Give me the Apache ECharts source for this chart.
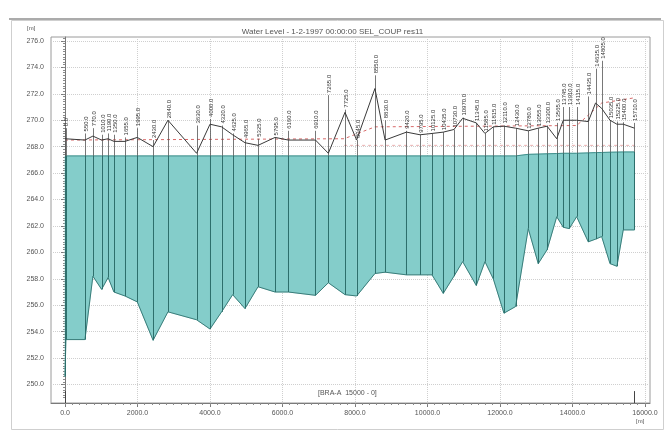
<!DOCTYPE html>
<html><head><meta charset="utf-8">
<script src="https://cdn.jsdelivr.net/npm/echarts@6/dist/echarts.min.js"></script>
<style>html,body{margin:0;padding:0;background:#fff}#c{width:665px;height:434px}</style>
</head><body><div id="c"></div><script>
// Cross-section chainages [m]
const chainages = [0, 25, 550, 770, 1010, 1190, 1350, 1655, 1995, 2430, 2840, 3630, 4000, 4320, 4625, 4965, 5325, 5795, 6160, 6910, 7265, 7725, 8045, 8550, 8830, 9420, 9795, 10125, 10435, 10730, 10970, 11345, 11585, 11815, 12110, 12430, 12780, 13055, 13300, 13565, 13745, 13910, 14115, 14435, 14635, 14805, 15035, 15225, 15400, 15710];
// Bed level [m]
const bedLevels = [250.6, 253.4, 253.4, 258.2, 257.2, 258.1, 257.0, 256.7, 256.25, 253.35, 255.5, 254.9, 254.2, 255.5, 256.8, 255.75, 257.4, 257.0, 257.0, 256.75, 257.7, 256.8, 256.7, 258.4, 258.5, 258.3, 258.3, 258.3, 256.9, 258.2, 259.3, 257.5, 259.3, 258.0, 255.4, 255.9, 261.8, 259.15, 260.2, 262.7, 261.9, 261.8, 262.7, 260.8, 261.0, 261.2, 259.15, 258.95, 261.7, 261.7];
// Water level [m]
const waterLevels = [267.3, 267.3, 267.3, 267.3, 267.3, 267.3, 267.3, 267.3, 267.3, 267.3, 267.3, 267.3, 267.3, 267.3, 267.3, 267.3, 267.3, 267.3, 267.3, 267.3, 267.3, 267.3, 267.3, 267.3, 267.3, 267.3, 267.3, 267.3, 267.3, 267.3, 267.3, 267.3, 267.3, 267.3, 267.3, 267.3, 267.42, 267.44, 267.46, 267.48, 267.5, 267.5, 267.5, 267.53, 267.55, 267.56, 267.58, 267.59, 267.6, 267.6];
// Marker level (black line) [m]
const markerLevels = [268.6, 268.6, 268.5, 268.8, 268.5, 268.6, 268.4, 268.4, 268.7, 268.0, 270.0, 267.5, 269.7, 269.5, 268.9, 268.3, 268.1, 268.7, 268.5, 268.5, 267.5, 270.6, 268.5, 272.4, 268.5, 269.1, 268.9, 269.0, 269.1, 269.3, 270.15, 269.8, 269.0, 269.5, 269.55, 269.4, 269.2, 269.4, 269.55, 268.6, 270.0, 270.0, 270.0, 269.9, 271.3, 270.9, 270.0, 269.7, 269.7, 269.4];
// Level at which the section name starts [m]
const labelLevels = [269.4, 269.4, 269.0, 269.4, 268.9, 269.0, 268.9, 268.7, 269.4, 268.5, 269.9, 269.6, 270.1, 269.6, 269.0, 268.5, 268.6, 268.7, 269.2, 269.2, 271.9, 270.8, 268.4, 273.4, 270.0, 269.2, 268.9, 269.0, 269.1, 269.3, 270.2, 269.8, 269.0, 269.5, 269.6, 269.4, 269.2, 269.4, 269.6, 269.8, 271.0, 271.0, 271.0, 271.8, 273.9, 274.5, 270.0, 269.9, 269.85, 269.8];
const sectionLabels = ["0.0", "", "550.0", "770.0", "1010.0", "1190.0", "1350.0", "1655.0", "1995.0", "2430.0", "2840.0", "3630.0", "4000.0", "4320.0", "4625.0", "4965.0", "5325.0", "5795.0", "6160.0", "6910.0", "7265.0", "7725.0", "8045.0", "8550.0", "8830.0", "9420.0", "9795.0", "10125.0", "10435.0", "10730.0", "10970.0", "11345.0", "11585.0", "11815.0", "12110.0", "12430.0", "12780.0", "13055.0", "13300.0", "13565.0", "13745.0", "13910.0", "14115.0", "14435.0", "14635.0", "14805.0", "15035.0", "15225.0", "15400.0", "15710.0"];
// Red dashed line
const redChainages = [0, 7700, 8550, 14115, 14805, 15710];
const redLevels = [268.5, 268.6, 269.5, 269.6, 271.3, 271.7];
// Pink dashed line
const pinkChainages = [7700, 15710];
const pinkLevels = [268.1, 268.1];
// Axis ticks
const xTicks = [0, 2000, 4000, 6000, 8000, 10000, 12000, 14000, 16000];
const yTicks = [250, 252, 254, 256, 258, 260, 262, 264, 266, 268, 270, 272, 274, 276];
const branchEnds = [0, 15710];

const X_MIN = -386, X_MAX = 16138, Y_MIN = 248.6, Y_MAX = 276.3;
const minorX = [], minorY = [];
for (let v = 0; v <= 16000; v += 200) minorX.push(v);
for (let v = 249.0; v <= 276.2; v += 0.2) minorY.push(+v.toFixed(1));

const FONT = 'Liberation Sans, Arial, sans-serif';
const chart = echarts.init(document.getElementById('c'), null, {renderer: 'canvas'});
const gridPos = {left: 51, top: 37, right: 15, bottom: 31};

// one trapezoid of water between consecutive sections
const waterCells = [];
for (let i = 0; i < chainages.length - 1; i++) {
  waterCells.push([chainages[i], bedLevels[i], waterLevels[i], chainages[i + 1], bedLevels[i + 1], waterLevels[i + 1]]);
}

chart.setOption({
  animation: false,
  backgroundColor: '#fff',
  grid: [
    Object.assign({show: true, borderColor: '#9a9a9a', borderWidth: 1, backgroundColor: 'transparent'}, gridPos),
    Object.assign({show: false}, gridPos)
  ],
  xAxis: [{
    type: 'value', gridIndex: 0, min: X_MIN, max: X_MAX,
    axisLine: {show: true, lineStyle: {color: '#7a7a7a'}},
    axisTick: {show: true, length: 4, customValues: xTicks, lineStyle: {color: '#7a7a7a'}},
    axisLabel: {customValues: xTicks, margin: 7, fontSize: 7, color: '#555', fontFamily: FONT, formatter: v => v.toFixed(1)},
    splitLine: {show: true, lineStyle: {color: '#cfcfcf', type: 'dotted'}}
  }, {
    type: 'value', gridIndex: 1, min: X_MIN, max: X_MAX,
    axisLine: {show: false}, axisLabel: {show: false}, splitLine: {show: false},
    axisTick: {show: true, length: 2, customValues: minorX, lineStyle: {color: '#8a8a8a'}}
  }],
  yAxis: [{
    type: 'value', gridIndex: 0, min: Y_MIN, max: Y_MAX,
    axisLine: {show: true, lineStyle: {color: '#7a7a7a'}},
    axisTick: {show: true, length: 4, customValues: yTicks, lineStyle: {color: '#7a7a7a'}},
    axisLabel: {customValues: yTicks, margin: 7, fontSize: 7, color: '#555', fontFamily: FONT, formatter: v => v.toFixed(1)},
    splitLine: {show: true, lineStyle: {color: '#cfcfcf', type: 'dotted'}}
  }, {
    type: 'value', gridIndex: 1, min: Y_MIN, max: Y_MAX,
    axisLine: {show: false}, axisLabel: {show: false}, splitLine: {show: false},
    axisTick: {show: true, length: 2, customValues: minorY, lineStyle: {color: '#8a8a8a'}}
  }],
  graphic: [
    {type: 'rect', left: 9, top: 18, shape: {width: 652, height: 409}, style: {fill: 'none', stroke: '#cfcfcf', lineWidth: 1}, z: -10},
    {type: 'line', shape: {x1: 9, y1: 19, x2: 661, y2: 19}, style: {stroke: '#8f8f8f', lineWidth: 1.5}},
    {type: 'text', left: 'center', top: 28, style: {text: 'Water Level - 1-2-1997 00:00:00 SEL_COUP res11', fontSize: 8, fill: '#555', fontFamily: FONT}},
    {type: 'text', left: 27, top: 25, style: {text: '[m]', fontSize: 6, fill: '#555', fontFamily: FONT}},
    {type: 'text', left: 636, top: 418, style: {text: '[m]', fontSize: 6, fill: '#555', fontFamily: FONT}},
    {type: 'text', left: 318, top: 390, style: {text: '[BRA-A  15000 - 0]', fontSize: 7, fill: '#555', fontFamily: FONT}}
  ],
  series: [
    {
      name: 'waterArea', type: 'custom', xAxisIndex: 0, yAxisIndex: 0, z: 2,
      data: waterCells,
      renderItem: function (params, api) {
        const a = api.coord([api.value(0), api.value(2)]);
        const b = api.coord([api.value(3), api.value(5)]);
        const c = api.coord([api.value(3), api.value(4)]);
        const d = api.coord([api.value(0), api.value(1)]);
        return {type: 'polygon', shape: {points: [a, b, c, d]},
          style: {fill: '#84cdca', stroke: '#84cdca', lineWidth: 0.6}};
      }
    },
    {
      name: 'bed', type: 'line', xAxisIndex: 0, yAxisIndex: 0,
      data: chainages.map((c, i) => [c, bedLevels[i]]),
      symbol: 'none', lineStyle: {color: '#3a7d7a', width: 1}, z: 3
    },
    {
      name: 'water', type: 'line', xAxisIndex: 0, yAxisIndex: 0,
      data: chainages.map((c, i) => [c, waterLevels[i]]),
      symbol: 'none', lineStyle: {color: '#3d8d8a', width: 1}, z: 3
    },
    {
      name: 'pink', type: 'line', data: pinkChainages.map((c, i) => [c, pinkLevels[i]]),
      symbol: 'none', lineStyle: {color: '#eab0b0', width: 1, type: [3, 3]}, z: 3
    },
    {
      name: 'red', type: 'line', data: redChainages.map((c, i) => [c, redLevels[i]]),
      symbol: 'none', lineStyle: {color: '#d86a6a', width: 1, type: [3, 3]}, z: 3
    },
    {
      name: 'sections', type: 'custom', xAxisIndex: 0, yAxisIndex: 0, z: 4,
      data: chainages.map((c, i) => [c, bedLevels[i], waterLevels[i], Math.max(labelLevels[i], markerLevels[i]), i]),
      renderItem: function (params, api) {
        const x = api.value(0);
        const pB = api.coord([x, api.value(1)]);
        const pW = api.coord([x, api.value(2)]);
        const pT = api.coord([x, api.value(3)]);
        const idx = api.value(4);
        const px = Math.round(pB[0]) + 0.5;
        return {type: 'group', children: [
          {type: 'line', shape: {x1: px, y1: pB[1], x2: px, y2: pW[1]}, style: {stroke: '#2d6f6c', lineWidth: 1}},
          {type: 'line', shape: {x1: px, y1: pW[1], x2: px, y2: pT[1]}, style: {stroke: '#555', lineWidth: 0.8}},
          {type: 'text', x: px + 0.5, y: pT[1] - 2, rotation: Math.PI / 2,
            style: {text: sectionLabels[idx], fontSize: 6, fill: '#333', fontFamily: FONT, align: 'left', verticalAlign: 'middle'}}
        ]};
      }
    },
    {
      name: 'marker', type: 'line', data: chainages.map((c, i) => [c, markerLevels[i]]),
      symbol: 'none', lineStyle: {color: '#3a3a3a', width: 1}, z: 5
    },
    {
      name: 'ends', type: 'custom', z: 4,
      data: branchEnds.map(c => [c]),
      renderItem: function (params, api) {
        const p0 = api.coord([api.value(0), Y_MIN]);
        const p1 = api.coord([api.value(0), Y_MIN + 0.9]);
        const px = Math.round(p0[0]) + 0.5;
        return {type: 'line', shape: {x1: px, y1: p0[1], x2: px, y2: p1[1]}, style: {stroke: '#444', lineWidth: 1}};
      }
    }
  ]
});
</script></body></html>
